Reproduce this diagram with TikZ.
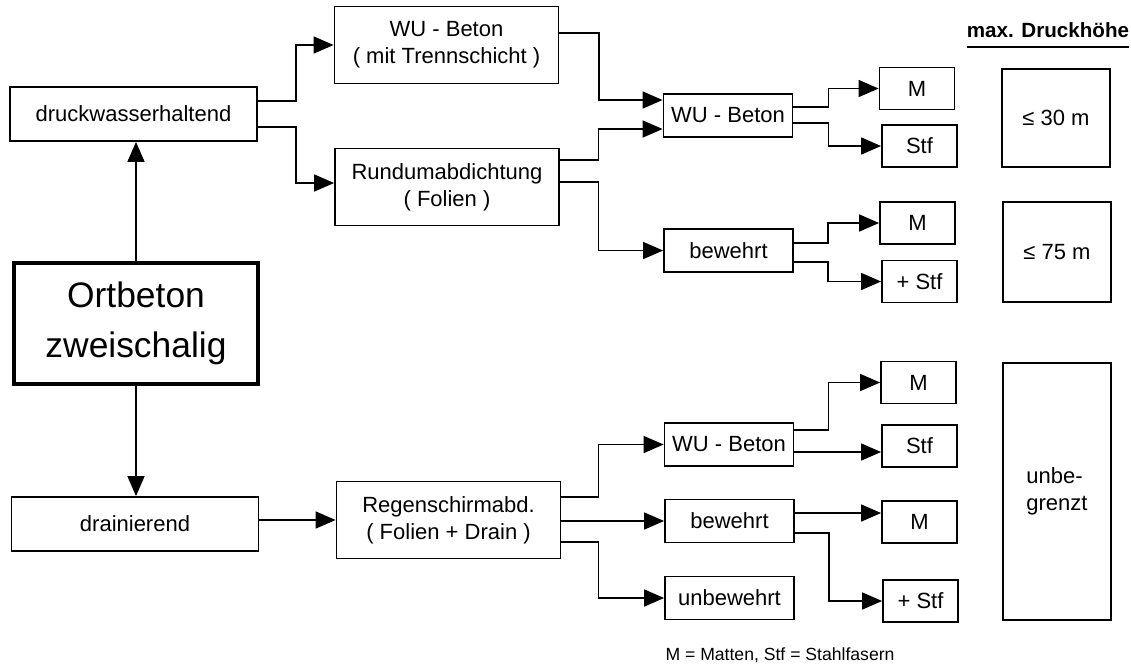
\documentclass[tikz,border=0pt]{standalone}
\usepackage{fontspec}
\setmainfont{Liberation Sans}
\usetikzlibrary{arrows.meta}
\tikzset{box/.style={draw, line width=0.9pt, inner sep=0pt, align=center,
   font=\fontsize{11}{13.5}\selectfont},
 wide box/.style={box, minimum width=123.5pt, minimum height=27pt},
 sub box/.style={box, minimum width=112pt, minimum height=38.5pt},
 mid box/.style={box, minimum width=64.5pt, minimum height=21.5pt},
 small box/.style={box, minimum width=37.5pt, minimum height=21pt},
 side box/.style={box, minimum width=54pt},
 arr/.style={-{Triangle[length=10pt,width=8.5pt]}, line width=0.8pt},
 }

\begin{document}
\begin{tikzpicture}[x=0.5pt,y=-0.5pt]
        \useasboundingbox (0,0) rectangle (1131,666);
        % linke Spalte
        \node[wide box] (dw) at (133.5,114) {druckwasserhaltend};
        \node[box, line width=1.6pt, minimum width=122pt, minimum height=60.5pt,
            font=\fontsize{17.7}{25}\selectfont] (ort) at (136,323.5) {Ortbeton\\zweischalig};
        \node[wide box] (dr) at (135,524) {drainierend};
        % Abdichtung
        \node[sub box] (wut) at (446.5,45) {WU - Beton\\( mit Trennschicht )};
        \node[sub box] (rund) at (447,187) {Rundumabdichtung\\( Folien )};
        \node[sub box] (regen) at (448.5,520) {Regenschirmabd.\\( Folien + Drain )};
        % Innenschale
        \node[mid box] (wu1) at (728,115.5) {WU - Beton};
        \node[mid box] (bew1) at (728.5,250.5) {bewehrt};
        \node[mid box] (wu2) at (729,444.5) {WU - Beton};
        \node[mid box] (bew2) at (729.5,521) {bewehrt};
        \node[mid box] (unbew) at (729.5,598) {unbewehrt};
        % Bewehrung
        \node[small box] (m1) at (917,88.5) {M};
        \node[small box] (s1) at (919.5,146) {Stf};
        \node[small box] (m2) at (917.5,223) {M};
        \node[small box] (s2) at (919.5,281.5) {+ Stf};
        \node[small box] (m3) at (918.5,382.5) {M};
        \node[small box] (s3) at (919.5,446) {Stf};
        \node[small box] (m4) at (919.5,522) {M};
        \node[small box] (s4) at (920.5,601) {+ Stf};
        % max. Druckhoehe
        \node[inner sep=0pt, font=\fontsize{10.3}{12}\bfseries] (hdr) at (1048,30) {max. Druckhöhe};
        \draw[line width=0.9pt] ([yshift=-4.5pt]hdr.south west) -- ([yshift=-4.5pt]hdr.south east);
        \node[side box, minimum height=49pt] (r30) at (1056,118) {≤ 30 m};
        \node[side box, minimum height=50pt] (r75) at (1057,252) {≤ 75 m};
        \node[side box, minimum height=128.5pt, align=left] (unb) at (1057,491.5) {unbe-\\grenzt};
        \node[font=\fontsize{8.8}{10}\selectfont] (leg) at (780,655) {M = Matten, Stf = Stahlfasern};

        \draw[arr] (ort.north) -- (ort.north |- dw.south);
        \draw[arr] (ort.south) -- (ort.south |- dr.north);
        \draw[arr] ([yshift=6.5pt]dw.east) -- ++(38,0) |- (wut.west);
        \draw[arr] ([yshift=-6.5pt]dw.east) -- ++(38,0) |- ([yshift=2pt]rund.west);
        \draw[arr] (regen.west -| dr.east) -- (regen.west);

        \draw[arr] ([yshift=6pt]wut.east) -- ++(39.5,0) |- ([yshift=7.75pt]wu1.west);
        \draw[arr] ([yshift=13.5pt]rund.east) -- ++(38.5,0) |- ([yshift=-6.75pt]wu1.west);
        \draw[arr] ([yshift=2.5pt]rund.east) -- ++(38.5,0) |- (bew1.west);
        \draw[arr] ([yshift=11.5pt]regen.east) -- ++(37,0) |- (wu2.west);
        \draw[arr] (regen.east |- bew2.west) -- (bew2.west);
        \draw[arr] ([yshift=-11pt]regen.east) -- ++(37,0) |- (unbew.west);

        \draw[arr] ([yshift=4.25pt]wu1.east) -- ++(35,0) |- (m1.west);
        \draw[arr] ([yshift=-3.75pt]wu1.east) -- ++(35,0) |- (s1.west);
        \draw[arr] ([yshift=3.75pt]bew1.east) -- ++(34,0) |- (m2.west);
        \draw[arr] ([yshift=-5.75pt]bew1.east) -- ++(34,0) |- (s2.west);
        \draw[arr] ([yshift=7.25pt]wu2.east) -- ++(34,0) |- (m3.west);
        \draw[arr] ([yshift=-3.75pt]wu2.east) -- ([yshift=-3.75pt]wu2.east -| s3.west);
        \draw[arr] ([yshift=4pt]bew2.east) -- ([yshift=4pt]bew2.east -| m4.west);
        \draw[arr] ([yshift=-6pt]bew2.east) -- ++(34,0) |- (s4.west);
    \end{tikzpicture}
\end{document}
